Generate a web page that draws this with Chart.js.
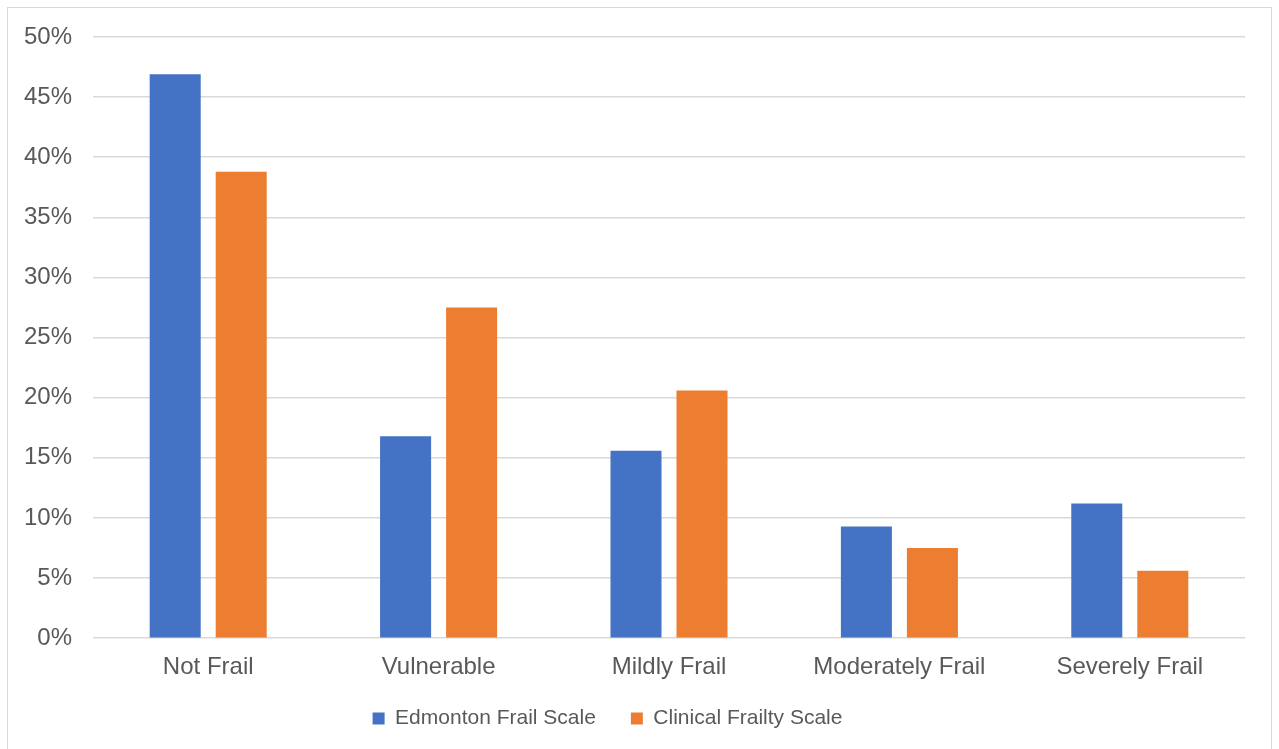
<!DOCTYPE html>
<html>
<head>
<meta charset="utf-8">
<script src="https://cdn.jsdelivr.net/npm/chart.js@4"></script>
<style>
  html, body { margin: 0; padding: 0; background: #ffffff; }
  body { width: 1279px; height: 749px; position: relative; overflow: hidden; }
  #frame { position: absolute; left: 7px; top: 7px; width: 1265px; height: 760px;
           border: 1px solid #d9d9d9; box-sizing: border-box; }
  #wrap { position: absolute; left: 0; top: 0; width: 1279px; height: 749px; }
</style>
</head>
<body>
<div id="frame"></div>
<div id="wrap"><canvas id="chart"></canvas></div>
<script>
// Frailty categories and share of patients (%) under each scale
const categories = ['Not Frail', 'Vulnerable', 'Mildly Frail', 'Moderately Frail', 'Severely Frail'];
const edmontonFrailScale = [46.9, 16.8, 15.6, 9.3, 11.2];
const clinicalFrailtyScale = [38.8, 27.5, 20.6, 7.5, 5.6];
const seriesNames = ['Edmonton Frail Scale', 'Clinical Frailty Scale'];
const yTicks = [0, 5, 10, 15, 20, 25, 30, 35, 40, 45, 50];

const textColor = '#595959';
const fontFamily = '"Liberation Sans", Arial, sans-serif';

// The wide label padding spaces the legend items apart; pull the row back up under
// the axis and slightly to the left.
const legendLift = {
  id: 'legendLift',
  afterLayout(chart) {
    const lg = chart.legend;
    if (lg) {
      lg.top -= 24; lg.bottom -= 24;
      lg.left -= 15; lg.right -= 15;
    }
  }
};

new Chart(document.getElementById('chart'), {
  type: 'bar',
  data: {
    labels: categories,
    datasets: [
      { label: seriesNames[0], data: edmontonFrailScale, backgroundColor: '#4472C4',
        categoryPercentage: 0.573, barPercentage: 0.773 },
      { label: seriesNames[1], data: clinicalFrailtyScale, backgroundColor: '#ED7D31',
        categoryPercentage: 0.573, barPercentage: 0.773 }
    ]
  },
  plugins: [legendLift],
  options: {
    responsive: true,
    maintainAspectRatio: false,
    animation: false,
    layout: { padding: { top: 37, right: 34, bottom: -14, left: 0 } },
    plugins: {
      tooltip: { enabled: false },
      legend: {
        position: 'bottom',
        labels: {
          boxWidth: 12, boxHeight: 12, padding: 35,
          color: textColor,
          font: { family: fontFamily, size: 21 }
        }
      }
    },
    scales: {
      x: {
        grid: { display: false, drawTicks: false },
        border: { display: false },
        ticks: { color: textColor, padding: 15, font: { family: fontFamily, size: 24 } }
      },
      y: {
        min: 0, max: 50,
        afterFit: s => { s.width = 93; },
        afterBuildTicks: s => { s.ticks = yTicks.map(v => ({ value: v })); },
        grid: { color: '#d9d9d9', lineWidth: 1.5, drawTicks: false },
        border: { display: false },
        ticks: {
          color: textColor, padding: 21,
          font: { family: fontFamily, size: 24 },
          callback: v => v + '%'
        }
      }
    }
  }
});
</script>
</body>
</html>
